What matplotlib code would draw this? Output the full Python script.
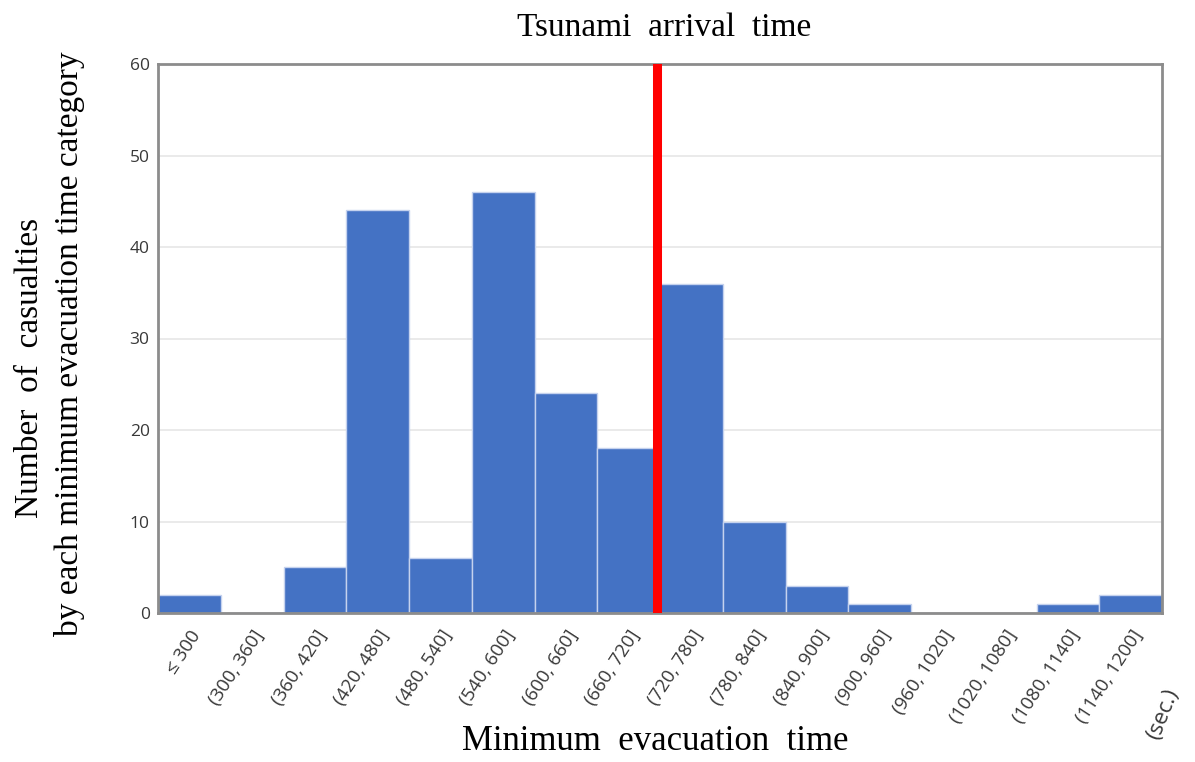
import matplotlib.pyplot as plt
import numpy as np

# Minimum evacuation time categories (seconds) and casualty counts
categories = ["\u2264 300", "(300, 360]", "(360, 420]", "(420, 480]", "(480, 540]",
              "(540, 600]", "(600, 660]", "(660, 720]", "(720, 780]", "(780, 840]",
              "(840, 900]", "(900, 960]", "(960, 1020]", "(1020, 1080]",
              "(1080, 1140]", "(1140, 1200]"]
casualties = [2, 0, 5, 44, 6, 46, 24, 18, 36, 10, 3, 1, 0, 0, 1, 2]
arrival_boundary = 7.5   # boundary between (660, 720] and (720, 780]
yticks = [0, 10, 20, 30, 40, 50, 60]

fig = plt.figure(figsize=(11.95, 7.62), dpi=100)
ax = fig.add_axes([158 / 1195, 1 - 613 / 762, (1162 - 158) / 1195, (613 - 64) / 762])

x = np.arange(len(categories))
ax.bar(x, casualties, width=1.0, color="#4472C4", edgecolor="#c5d2ee", linewidth=1.0, zorder=2)
ax.axvline(arrival_boundary - 0.05, color="#ff0000", linewidth=6.5, zorder=3)

ax.set_xlim(-0.5, len(categories) - 0.5)
ax.set_ylim(0, 60)
ax.set_yticks(yticks)
ax.yaxis.grid(True, color="#e6e6e6", linewidth=1.2, zorder=0)
ax.set_axisbelow(True)
for s in ax.spines.values():
    s.set_color("#8c8c8c")
    s.set_linewidth(2)
ax.tick_params(axis="both", length=0, labelsize=12.5, labelcolor="#383838", pad=6)
for lbl in ax.get_yticklabels():
    lbl.set_fontfamily("Open Sans")

ax.set_xticks(x)
ax.set_xticklabels(categories, rotation=57, ha="right", va="top",
                   rotation_mode="anchor", fontsize=13.5, family="Open Sans",
                   color="#383838")
ax.tick_params(axis="x", pad=10)

fig.text(1163 / 1195, 1 - 714 / 762, "(sec.)", rotation=68, ha="center", va="center",
         fontsize=16, family="Open Sans", color="#383838")

serif = "Liberation Serif"
fig.text(664 / 1195, 1 - 28 / 762, "Tsunami  arrival  time", ha="center", va="center",
         fontsize=24, family=serif)
fig.text(655 / 1195, 1 - 741 / 762, "Minimum  evacuation  time", ha="center", va="center",
         fontsize=25, family=serif)
fig.text(30 / 1195, 1 - 368 / 762, "Number  of  casualties", rotation=90,
         ha="center", va="center", fontsize=24, family=serif)
fig.text(70 / 1195, 1 - 344 / 762, "by each minimum evacuation time category", rotation=90,
         ha="center", va="center", fontsize=24, family=serif)

fig.savefig("out.png", dpi=100)
